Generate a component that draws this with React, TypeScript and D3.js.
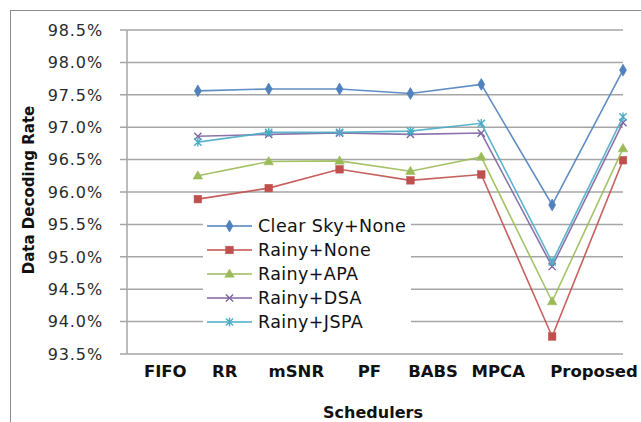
import React from "react";
import * as d3 from "d3";

const categories = ["FIFO", "RR", "mSNR", "PF", "BABS", "MPCA", "Proposed"];
// x positions of the category labels (in point-index units, as placed in the source)
const labelPositions = [0.54, 1.38, 2.39, 3.42, 4.32, 5.24, 6.59];
const pointIndex = [1, 2, 3, 4, 5, 6, 7];

const clearSkyNone = [97.56, 97.59, 97.59, 97.52, 97.66, 95.8, 97.88];
const rainyNone = [95.89, 96.06, 96.35, 96.18, 96.27, 93.77, 96.49];
const rainyAPA = [96.25, 96.47, 96.48, 96.32, 96.54, 94.31, 96.67];
const rainyDSA = [96.86, 96.89, 96.91, 96.89, 96.91, 94.85, 97.07];
const rainyJSPA = [96.77, 96.92, 96.92, 96.94, 97.06, 94.92, 97.16];

const yTicks = [93.5, 94.0, 94.5, 95.0, 95.5, 96.0, 96.5, 97.0, 97.5, 98.0, 98.5];

const seriesNames = ["Clear Sky+None", "Rainy+None", "Rainy+APA", "Rainy+DSA", "Rainy+JSPA"];
const seriesValues = [clearSkyNone, rainyNone, rainyAPA, rainyDSA, rainyJSPA];
const seriesColors = ["#4F81BD", "#C0504D", "#9BBB59", "#8064A2", "#4BACC6"];
const seriesMarkers = ["diamond", "square", "triangle", "x", "star"];

const W = 641;
const H = 422;
const plot = { left: 127, right: 623, top: 30, bottom: 354 };

function Marker({ kind, x, y, color }: { kind: string; x: number; y: number; color: string }) {
  if (kind === "diamond") {
    const p = d3.symbol().type(d3.symbolDiamond).size(40)();
    return <path d={p || ""} transform={`translate(${x},${y})`} fill={color} stroke={color} strokeWidth={0.8} />;
  }
  if (kind === "square") {
    return <rect x={x - 3.8} y={y - 3.8} width={7.6} height={7.6} fill={color} stroke={color} strokeWidth={0.5} />;
  }
  if (kind === "triangle") {
    const p = d3.symbol().type(d3.symbolTriangle).size(40)();
    return <path d={p || ""} transform={`translate(${x},${y + 0.5})`} fill={color} stroke={color} strokeWidth={0.5} />;
  }
  if (kind === "x") {
    const s = 3.6;
    return (
      <path
        d={`M${x - s},${y - s}L${x + s},${y + s}M${x - s},${y + s}L${x + s},${y - s}`}
        stroke={color}
        strokeWidth={1.4}
        fill="none"
      />
    );
  }
  const s = 3.6;
  return (
    <path
      d={`M${x - s},${y - s}L${x + s},${y + s}M${x - s},${y + s}L${x + s},${y - s}M${x},${y - s - 0.8}L${x},${y + s + 0.8}`}
      stroke={color}
      strokeWidth={1.4}
      fill="none"
    />
  );
}

export default function App() {
  const x = d3.scaleLinear().domain([0, 7]).range([plot.left, plot.right]);
  const y = d3.scaleLinear().domain([93.5, 98.5]).range([plot.bottom, plot.top]);
  const line = d3
    .line<number>()
    .x((_, i) => x(pointIndex[i]))
    .y((d) => y(d));

  const legend = { x: 203, y: 205, w: 208, h: 133, rowY0: 226, rowStep: 24 };

  return (
    <svg
      width={W}
      height={H}
      style={{ position: "absolute", left: 0, top: 0, background: "#fff" }}
      fontFamily="'DejaVu Sans', Verdana, sans-serif"
    >
      <rect x={0} y={0} width={W} height={H} fill="#fff" />
      <rect x={10.5} y={10.5} width={700} height={500} fill="none" stroke="#8c8c8c" strokeWidth={1} />

      {/* gridlines */}
      {yTicks.map((t) => (
        <line
          key={t}
          x1={plot.left - 7}
          x2={plot.right}
          y1={y(t)}
          y2={y(t)}
          stroke="#a6a6a6"
          strokeWidth={1.5}
        />
      ))}
      {/* y axis */}
      <line x1={plot.left} x2={plot.left} y1={plot.top} y2={plot.bottom} stroke="#a6a6a6" strokeWidth={1.5} />

      {/* y tick labels */}
      {yTicks.map((t) => (
        <text
          key={"l" + t}
          x={103}
          y={y(t)}
          dy="0.36em"
          textAnchor="end"
          fontSize={16}
          letterSpacing={0.9}
          fill="#2b2b2b"
        >
          {t.toFixed(1) + "%"}
        </text>
      ))}

      {/* series */}
      {seriesValues.map((vals, si) => (
        <g key={si}>
          <path d={line(vals) || ""} fill="none" stroke={seriesColors[si]} strokeWidth={1.6} strokeOpacity={0.9} />
          {vals.map((v, i) => (
            <Marker key={i} kind={seriesMarkers[si]} x={x(pointIndex[i])} y={y(v)} color={seriesColors[si]} />
          ))}
        </g>
      ))}

      {/* x category labels */}
      {categories.map((c, i) => (
        <text key={c} x={x(labelPositions[i])} y={377} textAnchor="middle" fontSize={16.5} fontWeight="bold" fill="#111">
          {c}
        </text>
      ))}

      {/* axis titles */}
      <text x={373} y={418} textAnchor="middle" fontSize={16} fontWeight="bold" fill="#111">
        Schedulers
      </text>
      <text
        transform={`translate(34,190) rotate(-90)`}
        textAnchor="middle"
        fontSize={15}
        fontWeight="bold"
        fill="#111"
      >
        Data Decoding Rate
      </text>

      {/* legend */}
      <rect x={legend.x} y={legend.y} width={legend.w} height={legend.h} fill="#fff" />
      {seriesNames.map((n, i) => {
        const ry = legend.rowY0 + i * legend.rowStep;
        return (
          <g key={n}>
            <line x1={207} x2={252} y1={ry} y2={ry} stroke={seriesColors[i]} strokeWidth={1.6} />
            <Marker kind={seriesMarkers[i]} x={229.5} y={ry} color={seriesColors[i]} />
            <text x={258} y={ry} dy="0.36em" fontSize={17.5} letterSpacing={0.4} fill="#111">
              {n}
            </text>
          </g>
        );
      })}
    </svg>
  );
}
